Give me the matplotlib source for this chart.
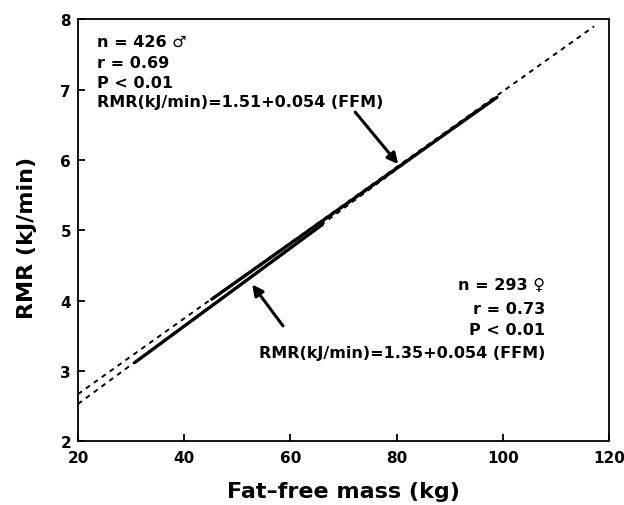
import matplotlib
matplotlib.use("Agg")
import matplotlib.pyplot as plt

# regression lines (x in kg, y in kJ/min)
male_dash_x = [20, 117.2]
male_dash_y = [2.67, 7.90]
male_solid_x = [45.2, 98.9]
male_solid_y = [4.02, 6.89]

female_dash_x = [20, 95]
female_dash_y = [2.53, 6.70]
female_solid_x = [30.7, 66]
female_solid_y = [3.12, 5.08]

# arrows (tail, head)
male_arrow = [(72.2, 6.68), (80.3, 5.94)]
female_arrow = [(58.6, 3.64), (52.8, 4.23)]

male_text = ["n = 426 \u2642", "r = 0.69", "P < 0.01", "RMR(kJ/min)=1.51+0.054 (FFM)"]
female_text = ["n = 293 \u2640", "r = 0.73", "P < 0.01", "RMR(kJ/min)=1.35+0.054 (FFM)"]

xticks = [20, 40, 60, 80, 100, 120]
yticks = [2, 3, 4, 5, 6, 7, 8]

plt.rcParams['font.family'] = ['DejaVu Sans']
plt.rcParams['font.weight'] = 'bold'

fig = plt.figure(figsize=(6.24, 5.06), dpi=100)
ax = fig.add_axes([0.125, 0.126, 0.851, 0.834])

ax.plot(male_dash_x, male_dash_y, color='black', lw=1.4, ls=(0, (2.5, 2.5)))
ax.plot(female_dash_x, female_dash_y, color='black', lw=1.4, ls=(0, (2.5, 2.5)))
ax.plot(male_solid_x, male_solid_y, color='black', lw=2.4, solid_capstyle='round')
ax.plot(female_solid_x, female_solid_y, color='black', lw=2.4, solid_capstyle='round')

for tail, head in (male_arrow, female_arrow):
    ax.annotate('', xy=head, xytext=tail,
                arrowprops=dict(arrowstyle='-|>', color='black', lw=2.2,
                                mutation_scale=16, shrinkA=0, shrinkB=0))

ax.set_xlim(20, 120)
ax.set_ylim(2, 8)
ax.set_xticks(xticks)
ax.set_yticks(yticks)
ax.tick_params(direction='in', length=5, width=1.3, labelsize=11,
               top=False, right=False)
ax.tick_params(axis='x', pad=6)
ax.tick_params(axis='y', pad=5)
for lab in ax.get_xticklabels() + ax.get_yticklabels():
    lab.set_fontweight('bold')
for s in ax.spines.values():
    s.set_linewidth(1.3)

ax.set_xlabel('Fat\u2013free mass (kg)', fontsize=16, fontweight='bold', labelpad=12)
ax.set_ylabel('RMR (kJ/min)', fontsize=16, fontweight='bold')
ax.yaxis.set_label_coords(-0.077, 0.485)

# male statistics block, top left
ys = [0.948, 0.898, 0.851, 0.804]
for t, y in zip(male_text, ys):
    ax.text(0.036, y, t, transform=ax.transAxes, fontsize=11.5,
            fontweight='bold', va='center', ha='left')

# female statistics block, right
ys = [0.372, 0.315, 0.265, 0.211]
for t, y in zip(female_text, ys):
    ax.text(0.880, y, t, transform=ax.transAxes, fontsize=11.5,
            fontweight='bold', va='center', ha='right')

fig.savefig('out.png', dpi=100)
